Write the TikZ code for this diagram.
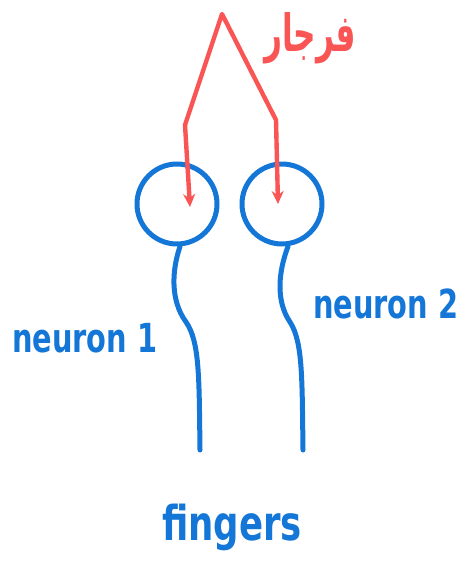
\documentclass[tikz,border=0pt]{standalone}
\usepackage{fontspec}
\setmainfont{DejaVu Sans}
\newfontfamily\arabicfont[Script=Arabic]{DejaVu Sans}
\TeXXeTstate=1
\usetikzlibrary{arrows.meta}
\definecolor{penblue}{RGB}{20,118,214}
\definecolor{penred}{RGB}{250,85,85}
\tikzset{
  blueline/.style={draw=penblue, line width=5pt, line cap=round, line join=round},
  redline/.style={draw=penred, line width=4.4pt, line cap=round, line join=round, -{Stealth[length=13pt,width=12pt]}},
  hand/.style={text=penblue, inner sep=0pt}
}
\begin{document}
\begin{tikzpicture}[x=1pt,y=-1pt]
\useasboundingbox (0,0) rectangle (469,585);
% neurons
\node[circle, blueline, minimum size=80pt, inner sep=0pt] (n1) at (177,204) {};
\node[circle, blueline, minimum size=80pt, inner sep=0pt] (n2) at (282,204) {};
% tails
\coordinate (t1) at (200,450);
\coordinate (t2) at (303,450);
\draw[blueline] (n1.south) ++(3,0) .. controls (172,270) and (170,300) .. (186,322)
  .. controls (200,342) and (199,380) .. (t1);
\draw[blueline] (n2.south) ++(6,0) .. controls (279,270) and (275,300) .. (290,322)
  .. controls (303,342) and (302,380) .. (t2);
% red arrows
\coordinate (apex) at (222,14);
\coordinate (b1) at (185,125);
\coordinate (b2) at (276,120);
\coordinate (e1) at (190,207);
\coordinate (e2) at (278,204);
\draw[redline] (b1) -- (apex) -- (b2) -- (e2);
\draw[redline] (b1) -- (e1);
% labels
\node[hand, font=\fontsize{40}{40}\selectfont\bfseries, xscale=0.72, anchor=base west] (lab1) at (12,352) {neuron 1};
\node[hand, font=\fontsize{40}{40}\selectfont\bfseries, xscale=0.72, anchor=base west] (lab2) at (313,318) {neuron 2};
\node[hand, font=\fontsize{48}{48}\selectfont\bfseries, xscale=0.74, anchor=base] (fing) at (232,540) {fingers};
\node[text=penred, inner sep=0pt, font=\fontsize{38}{38}\selectfont\bfseries\arabicfont, xscale=0.82, yscale=1.35, anchor=base] (ar) at (310,52) {\beginR فرجار\endR};
\end{tikzpicture}
\end{document}
